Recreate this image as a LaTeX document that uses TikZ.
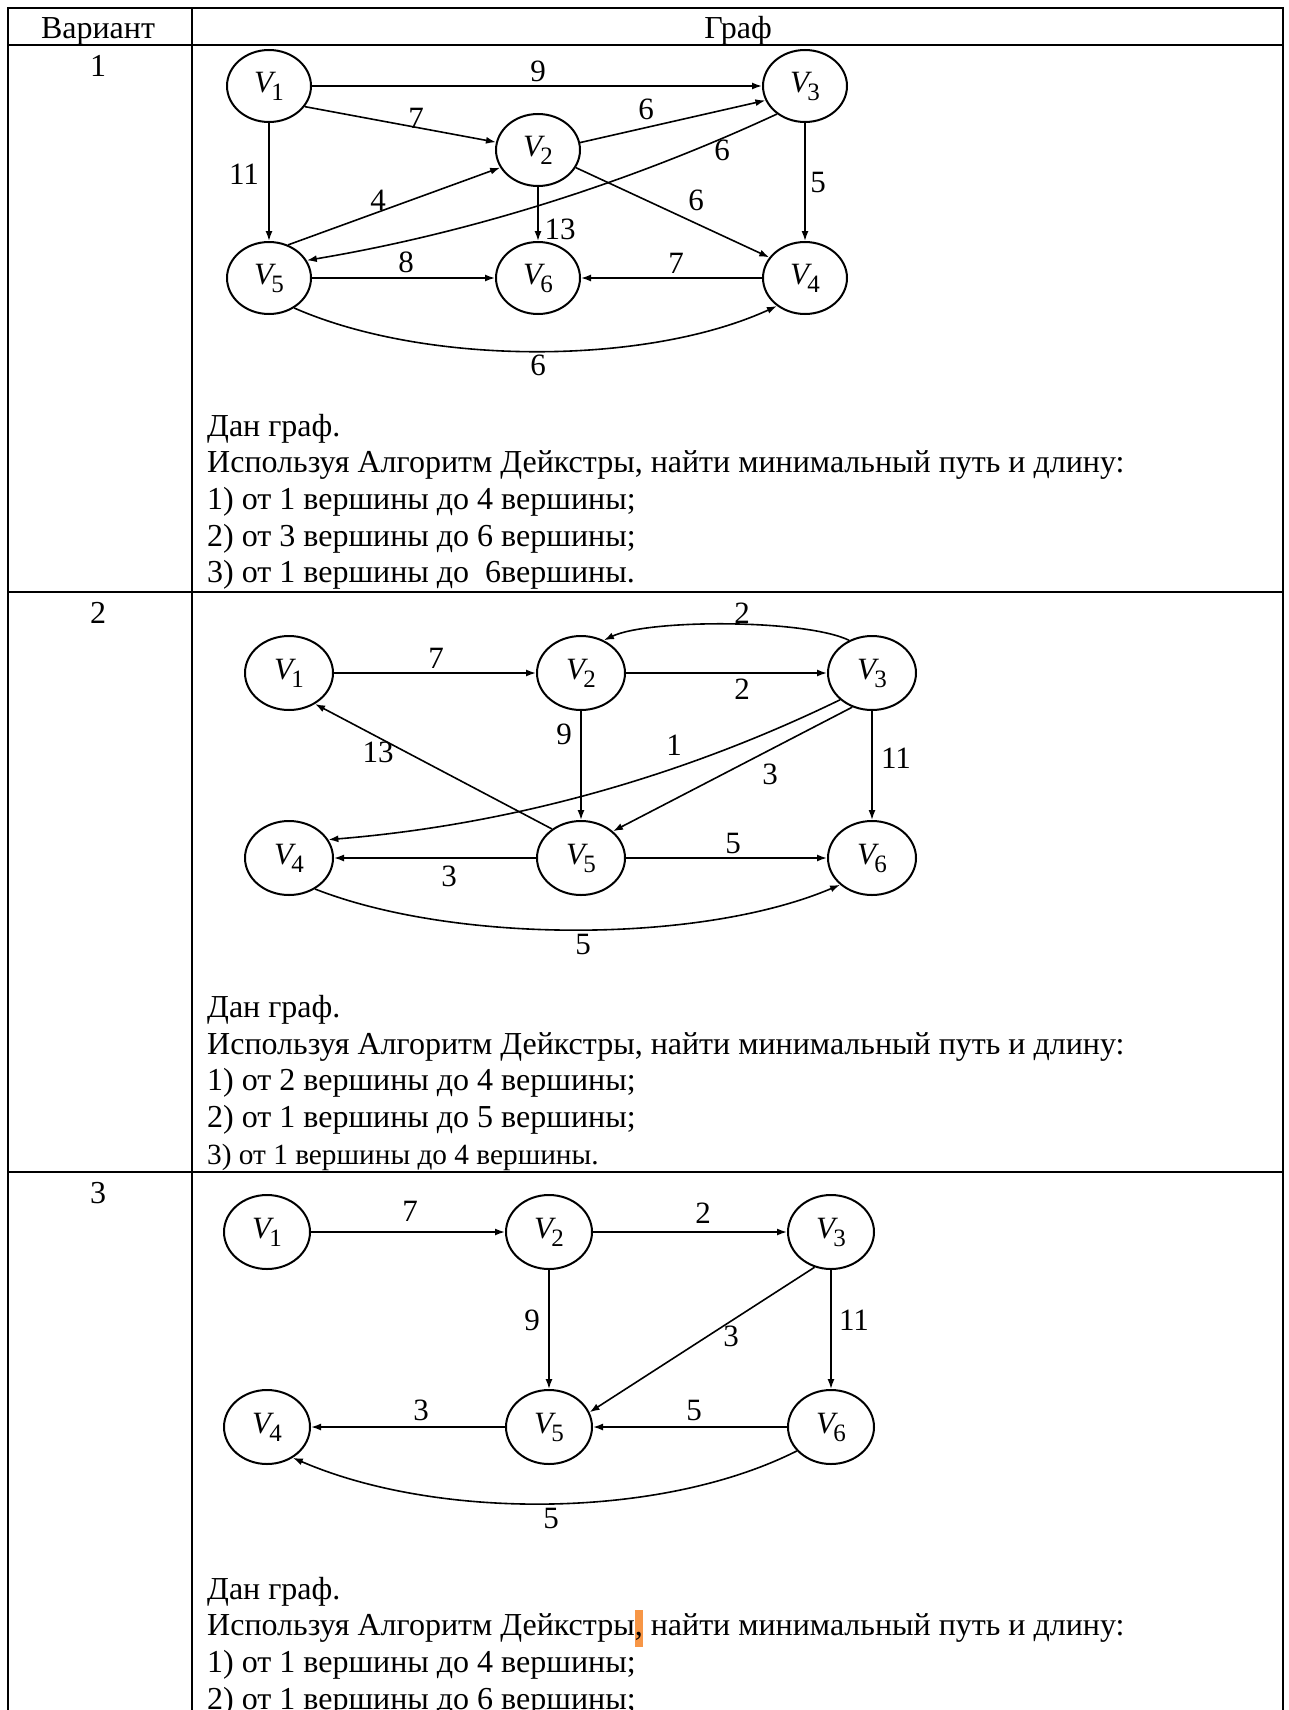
\documentclass[tikz,border=0pt]{standalone}
\usepackage{fontspec}
\setmainfont{Liberation Serif}
\usetikzlibrary{arrows.meta,shapes.geometric}
\definecolor{hl}{HTML}{F79646}
\newcommand{\Vv}[1]{{\itshape V}\kern-1.5pt\raisebox{-8pt}{\fontsize{25}{25}\selectfont #1}}
\newcommand{\hlc}[1]{\begingroup\setlength{\fboxsep}{0pt}\colorbox{hl}{\strut#1}\endgroup}
\begin{document}
\begin{tikzpicture}[x=1pt,y=-1pt,
  vA/.style={draw, ellipse, line width=2pt, minimum width=84pt, minimum height=72pt, inner sep=0pt, font=\fontsize{31}{31}\selectfont},
  vB/.style={vA, minimum width=88pt, minimum height=74pt},
  vC/.style={vA, minimum width=86pt, minimum height=74pt},
  edge/.style={line width=1.6pt, -{Latex[length=10pt,width=7pt]}},
  lbl/.style={font=\fontsize{31}{31}\selectfont, inner sep=0pt},
  txt/.style={font=\fontsize{32}{36.8}\selectfont, anchor=base west, inner sep=0pt},
  txtsmall/.style={font=\fontsize{29.3}{33}\selectfont, anchor=base west, inner sep=0pt},
  cell/.style={font=\fontsize{32}{36.8}\selectfont, anchor=base, inner sep=0pt},
  rulethick/.style={line width=2.2pt},
  rulethin/.style={line width=1.2pt}
]
\useasboundingbox (0,0) rectangle (1288,1710);

% ---------- table ----------
\draw[rulethick] (8,1730) -- (8,8) -- (1283,8) -- (1283,1730);
\draw[rulethick] (192,8) -- (192,1730);
\draw[rulethick] (8,45) -- (1283,45);
\draw[rulethick] (8,592) -- (210,592);
\draw[rulethin] (210,592) -- (933,592);
\draw[rulethick] (933,592) -- (1283,592);
\draw[rulethick] (8,1172) -- (210,1172);
\draw[rulethin] (210,1172) -- (892,1172);
\draw[rulethick] (892,1172) -- (1283,1172);

\node[cell] (hv) at (98,38) {Вариант};
\node[cell] (hg) at (738,38) {Граф};
\node[cell] (n1) at (98,76) {1};
\node[cell] (n2) at (98,623) {2};
\node[cell] (n3) at (98,1203) {3};

% ---------- graph 1 ----------
\node[vA] (a1) at (269,86) {\Vv1};
\node[vA] (a3) at (805,86) {\Vv3};
\node[vA] (a2) at (538,150) {\Vv2};
\node[vA] (a5) at (269,278) {\Vv5};
\node[vA] (a6) at (538,278) {\Vv6};
\node[vA] (a4) at (805,278) {\Vv4};

\draw[edge] (a1) -- (a3);
\draw[edge] (a1.-30) -- (a2);
\draw[edge] (a1) -- (a5);
\draw[edge] (a2.10) -- (a3.-160);
\draw[edge] (a3.-135) .. controls (628,183) and (470,233) .. (a5.25);
\draw[edge] (a2.-25) -- (a4.150);
\draw[edge] (a5.60) -- (a2.-155);
\draw[edge] (a2) -- (a6);
\draw[edge] (a3) -- (a4);
\draw[edge] (a5) -- (a6);
\draw[edge] (a4) -- (a6);
\draw[edge] (a5.-50) .. controls (426,366) and (646,366) .. (a4.-135);

\node[lbl] (la1) at (538,71) {9};
\node[lbl] (la2) at (416,118) {7};
\node[lbl] (la3) at (646,109) {6};
\node[lbl] (la4) at (722,150) {6};
\node[lbl] (la5) at (696,200) {6};
\node[lbl] (la6) at (560,229) {13};
\node[lbl] (la7) at (244,174) {11};
\node[lbl] (la8) at (378,200) {4};
\node[lbl] (la9) at (818,183) {5};
\node[lbl] (la10) at (406,262) {8};
\node[lbl] (la11) at (676,263) {7};
\node[lbl] (la12) at (538,365) {6};

\node[txt] (t11) at (207,436) {Дан граф.};
\node[txt] (t12) at (207,472.7) {Используя Алгоритм Дейкстры, найти минимальный путь и длину:};
\node[txt] (t13) at (207,509.4) {1) от 1 вершины до 4 вершины;};
\node[txt] (t14) at (207,546.1) {2) от 3 вершины до 6 вершины;};
\node[txt] (t15) at (207,582.8) {3) от 1 вершины до \ 6вершины.};

% ---------- graph 2 ----------
\node[vB] (b1) at (289,673) {\Vv1};
\node[vB] (b2) at (581,673) {\Vv2};
\node[vB] (b3) at (872,673) {\Vv3};
\node[vB] (b4) at (289,858) {\Vv4};
\node[vB] (b5) at (581,858) {\Vv5};
\node[vB] (b6) at (872,858) {\Vv6};

\draw[edge] (b3.125) .. controls (805,619) and (648,619) .. (b2.55);
\draw[edge] (b1) -- (b2);
\draw[edge] (b2) -- (b3);
\draw[edge] (b2) -- (b5);
\draw[edge] (b5.135) -- (b1.-50);
\draw[edge] (b3.-140) .. controls (679,778) and (508,825) .. (b4.25);
\draw[edge] (b3.-120) -- (b5.40);
\draw[edge] (b3) -- (b6);
\draw[edge] (b5) -- (b4);
\draw[edge] (b5) -- (b6);
\draw[edge] (b4.-50) .. controls (455,944) and (701,944) .. (b6.-140);

\node[lbl] (lb1) at (742,613) {2};
\node[lbl] (lb2) at (436,658) {7};
\node[lbl] (lb3) at (742,689) {2};
\node[lbl] (lb4) at (564,734) {9};
\node[lbl] (lb5) at (378,752) {13};
\node[lbl] (lb6) at (674,745) {1};
\node[lbl] (lb7) at (770,774) {3};
\node[lbl] (lb8) at (896,758) {11};
\node[lbl] (lb9) at (449,876) {3};
\node[lbl] (lb10) at (733,843) {5};
\node[lbl] (lb11) at (583,944) {5};

\node[txt] (t21) at (207,1017.5) {Дан граф.};
\node[txt] (t22) at (207,1054.2) {Используя Алгоритм Дейкстры, найти минимальный путь и длину:};
\node[txt] (t23) at (207,1090.9) {1) от 2 вершины до 4 вершины;};
\node[txt] (t24) at (207,1127.6) {2) от 1 вершины до 5 вершины;};
\node[txtsmall] (t25) at (207,1164.3) {3) от 1 вершины до 4 вершины.};

% ---------- graph 3 ----------
\node[vC] (c1) at (267,1232) {\Vv1};
\node[vC] (c2) at (549,1232) {\Vv2};
\node[vC] (c3) at (831,1232) {\Vv3};
\node[vC] (c4) at (267,1427) {\Vv4};
\node[vC] (c5) at (549,1427) {\Vv5};
\node[vC] (c6) at (831,1427) {\Vv6};

\draw[edge] (c1) -- (c2);
\draw[edge] (c2) -- (c3);
\draw[edge] (c2) -- (c5);
\draw[edge] (c3.-115) -- (c5.20);
\draw[edge] (c3) -- (c6);
\draw[edge] (c5) -- (c4);
\draw[edge] (c6) -- (c5);
\draw[edge] (c6.-145) .. controls (660,1520) and (436,1520) .. (c4.-50);

\node[lbl] (lc1) at (410,1211) {7};
\node[lbl] (lc2) at (703,1213) {2};
\node[lbl] (lc3) at (532,1320) {9};
\node[lbl] (lc4) at (731,1336) {3};
\node[lbl] (lc5) at (854,1320) {11};
\node[lbl] (lc6) at (421,1410) {3};
\node[lbl] (lc7) at (694,1410) {5};
\node[lbl] (lc8) at (551,1518) {5};

\node[txt] (t31) at (207,1599) {Дан граф.};
\node[txt] (t32) at (207,1635.7) {Используя Алгоритм Дейкстры\hlc{,} найти минимальный путь и длину:};
\node[txt] (t33) at (207,1672.4) {1) от 1 вершины до 4 вершины;};
\node[txt] (t34) at (207,1709.1) {2) от 1 вершины до 6 вершины;};
\end{tikzpicture}
\end{document}
